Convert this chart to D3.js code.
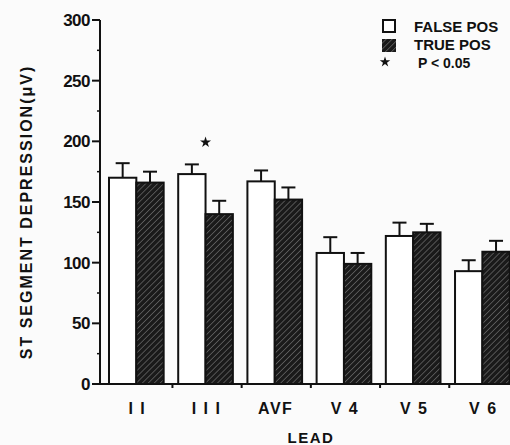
<!DOCTYPE html>
<html>
<head>
<meta charset="utf-8">
<script src="https://cdn.jsdelivr.net/npm/d3@7"></script>
<style>
  body { margin: 0; background: #fbfbfb; }
  text { font-family: "Liberation Sans", Arial, sans-serif; font-weight: bold; fill: #111; }
</style>
</head>
<body>
<div id="chart"></div>
<script>
const leads = ["I I", "I I I", "AVF", "V 4", "V 5", "V 6"];
const falsePos = [170, 173, 167, 108, 122, 93];
const falsePosErr = [12, 8, 9, 13, 11, 9];
const truePos = [166, 140, 152, 99, 125, 109];
const truePosErr = [9, 11, 10, 9, 7, 9];
const significant = [false, true, false, false, false, false];
const yTicks = [0, 50, 100, 150, 200, 250, 300];

function main() {
    const width = 510, height = 445;

    const svg = d3.select("#chart").append("svg")
        .attr("width", width)
        .attr("height", height);

    const defs = svg.append("defs");
    const pat = defs.append("pattern")
        .attr("id", "hatch")
        .attr("patternUnits", "userSpaceOnUse")
        .attr("width", 4.2).attr("height", 4.2)
        .attr("patternTransform", "rotate(45)");
    pat.append("rect").attr("width", 4.2).attr("height", 4.2).attr("fill", "#1a1a1a");
    pat.append("line")
        .attr("x1", 0).attr("y1", 0).attr("x2", 0).attr("y2", 4.2)
        .attr("stroke", "#707070").attr("stroke-width", 1.3);

    const y = d3.scaleLinear().domain([0, 300]).range([384, 20]);

    const x = d3.scaleBand()
        .domain(leads)
        .range([100, 518.7])
        .paddingInner(0.21)
        .paddingOuter(0.13);

    const sub = d3.scaleBand()
        .domain(["f", "t"])
        .range([0, x.bandwidth()]);

    // y axis
    const yAxis = svg.append("g").attr("transform", "translate(100,0)");
    yAxis.append("line")
        .attr("x1", 0).attr("x2", 0)
        .attr("y1", y(300)).attr("y2", y(0))
        .attr("stroke", "#111").attr("stroke-width", 2);
    yAxis.selectAll(".major").data(yTicks).enter().append("line")
        .attr("x1", -8).attr("x2", 0)
        .attr("y1", d => y(d)).attr("y2", d => y(d))
        .attr("stroke", "#111").attr("stroke-width", 2);
    yAxis.selectAll(".minor").data(d3.range(25, 300, 50)).enter().append("line")
        .attr("x1", -3).attr("x2", 0)
        .attr("y1", d => y(d)).attr("y2", d => y(d))
        .attr("stroke", "#111").attr("stroke-width", 1.5);
    yAxis.selectAll(".lbl").data(yTicks).enter().append("text")
        .attr("x", -10)
        .attr("y", d => y(d) + 6)
        .attr("text-anchor", "end")
        .attr("font-size", 17)
        .attr("letter-spacing", -0.5)
        .text(d => d);

    svg.append("text")
        .attr("transform", "translate(32,212) rotate(-90)")
        .attr("text-anchor", "middle")
        .attr("font-size", 16)
        .attr("letter-spacing", 2)
        .text("ST  SEGMENT  DEPRESSION(\u03bcV)");

    // x axis baseline
    svg.append("line")
        .attr("x1", 97).attr("x2", 510)
        .attr("y1", y(0)).attr("y2", y(0))
        .attr("stroke", "#111").attr("stroke-width", 2);

    const step = x.step();
    svg.selectAll(".xtick").data(leads.slice(1)).enter().append("line")
        .attr("x1", d => x(d) - (step - x.bandwidth()) / 2 + 1.5)
        .attr("x2", d => x(d) - (step - x.bandwidth()) / 2 + 1.5)
        .attr("y1", y(0)).attr("y2", y(0) + 4)
        .attr("stroke", "#111").attr("stroke-width", 2);

    svg.selectAll(".xlbl").data(leads).enter().append("text")
        .attr("x", d => x(d) + x.bandwidth() / 2 + 1)
        .attr("y", 414)
        .attr("text-anchor", "middle")
        .attr("font-size", 16)
        .attr("letter-spacing", 1.5)
        .text(d => d);

    svg.append("text")
        .attr("x", 311).attr("y", 443)
        .attr("text-anchor", "middle")
        .attr("font-size", 15)
        .attr("letter-spacing", 1.5)
        .text("LEAD");

    // bars
    const rows = leads.map((d, i) => ({
        lead: d,
        bars: [
            { key: "f", v: falsePos[i], e: falsePosErr[i] },
            { key: "t", v: truePos[i], e: truePosErr[i] }
        ]
    }));

    const groups = svg.selectAll(".grp").data(rows).enter().append("g")
        .attr("transform", d => `translate(${x(d.lead)},0)`);

    const bar = groups.selectAll(".bar").data(d => d.bars).enter().append("g");

    bar.append("line")
        .attr("x1", d => sub(d.key) + sub.bandwidth() / 2)
        .attr("x2", d => sub(d.key) + sub.bandwidth() / 2)
        .attr("y1", d => y(d.v)).attr("y2", d => y(d.v + d.e))
        .attr("stroke", "#111").attr("stroke-width", 2);
    bar.append("line")
        .attr("x1", d => sub(d.key) + sub.bandwidth() / 2 - 7)
        .attr("x2", d => sub(d.key) + sub.bandwidth() / 2 + 7)
        .attr("y1", d => y(d.v + d.e)).attr("y2", d => y(d.v + d.e))
        .attr("stroke", "#111").attr("stroke-width", 2);

    bar.append("rect")
        .attr("x", d => sub(d.key))
        .attr("y", d => y(d.v))
        .attr("width", sub.bandwidth())
        .attr("height", d => y(0) - y(d.v))
        .attr("fill", d => d.key === "f" ? "#fff" : "url(#hatch)")
        .attr("stroke", "#111")
        .attr("stroke-width", 2);

    // significance stars
    const star = d3.symbol().type(d3.symbolStar).size(38);
    svg.selectAll(".star").data(leads.filter((d, i) => significant[i])).enter().append("path")
        .attr("d", star)
        .attr("fill", "#111")
        .attr("transform", d => {
            const i = leads.indexOf(d);
            return `translate(${x(d) + x.bandwidth() / 2},${y(Math.max(falsePos[i] + falsePosErr[i], truePos[i] + truePosErr[i])) - 22})`;
        });

    // legend
    const lg = svg.append("g").attr("transform", "translate(382,19)");
    lg.append("rect").attr("x", 1).attr("y", 1).attr("width", 12).attr("height", 12)
        .attr("fill", "#fff").attr("stroke", "#111").attr("stroke-width", 2);
    lg.append("rect").attr("x", 0).attr("y", 20).attr("width", 14).attr("height", 13)
        .attr("fill", "url(#hatch)");
    lg.append("path").attr("d", d3.symbol().type(d3.symbolStar).size(34))
        .attr("fill", "#111").attr("transform", "translate(3,43)");
    lg.append("text").attr("x", 32).attr("y", 13).attr("font-size", 15).text("FALSE POS");
    lg.append("text").attr("x", 32).attr("y", 31).attr("font-size", 15).text("TRUE POS");
    lg.append("text").attr("x", 36).attr("y", 49).attr("font-size", 14).text("P < 0.05");
}
main();
</script>
</body>
</html>
